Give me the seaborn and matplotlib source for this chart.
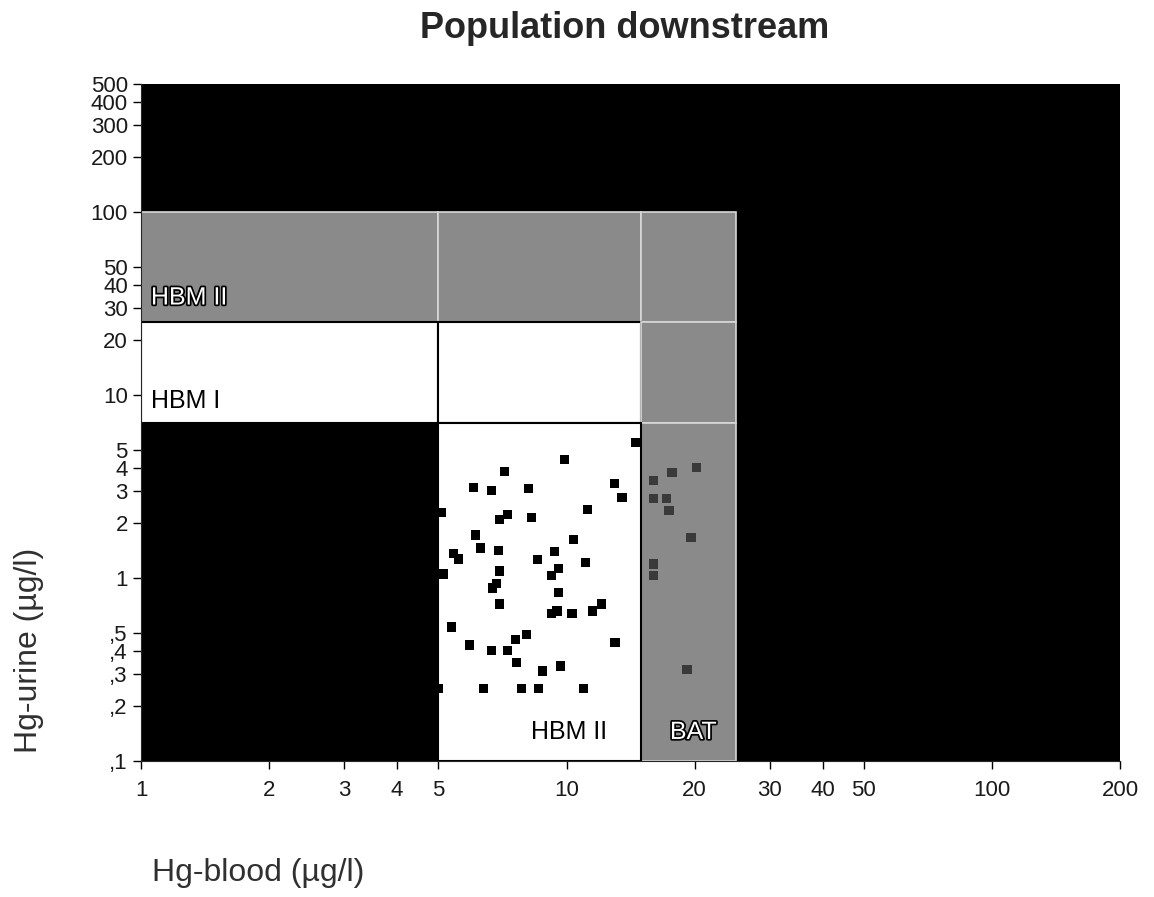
import numpy as np
import pandas as pd
import matplotlib
matplotlib.use("Agg")
import matplotlib.pyplot as plt
import matplotlib.patheffects as pe
import seaborn as sns
from matplotlib.patches import Rectangle

# Hg-blood / Hg-urine of the downstream population
blood_pts = [14.5, 9.9, 7.15, 6.04, 6.66, 8.14, 12.97, 13.5, 5.08, 11.2, 7.26, 6.96,
             8.27, 6.11, 10.4, 6.28, 6.92, 5.42, 5.57, 9.37, 8.54, 11.1, 9.58, 9.22,
             5.14, 6.96, 6.85, 6.7, 6.96, 9.58, 9.22, 9.5, 10.3, 11.5, 12.1, 5.36,
             8.05, 7.59, 5.91, 6.66, 7.26, 7.63, 8.78, 9.68, 13.0, 5.0, 6.38, 7.84,
             8.6, 10.97]
urine_pts = [5.5, 4.45, 3.82, 3.12, 3.0, 3.08, 3.28, 2.75, 2.27, 2.37, 2.22, 2.08,
             2.14, 1.72, 1.62, 1.46, 1.41, 1.36, 1.27, 1.39, 1.26, 1.22, 1.13, 1.03,
             1.05, 1.09, 0.93, 0.88, 0.72, 0.83, 0.64, 0.66, 0.64, 0.66, 0.72, 0.54,
             0.49, 0.46, 0.43, 0.40, 0.40, 0.345, 0.31, 0.33, 0.445, 0.25, 0.25, 0.25,
             0.25, 0.25]

# points hidden in the BAT column
blood_bat = [17.7, 16.0, 16.0, 17.2, 17.4, 19.6, 16.0, 16.0, 19.2, 20.2]
urine_bat = [3.78, 3.41, 2.72, 2.72, 2.33, 1.66, 1.19, 1.03, 0.316, 4.02]

# limit values
blood_limits = [5, 15, 25]
urine_limits = [7, 25, 100]

x_ticks = [1, 2, 3, 4, 5, 10, 20, 30, 40, 50, 100, 200]
y_ticks = [0.1, 0.2, 0.3, 0.4, 0.5, 1, 2, 3, 4, 5, 10, 20, 30, 40, 50, 100, 200, 300, 400, 500]
y_labels = [",1", ",2", ",3", ",4", ",5", "1", "2", "3", "4", "5", "10", "20", "30",
            "40", "50", "100", "200", "300", "400", "500"]

sns.set_style("ticks")
plt.rcParams['font.family'] = ['Liberation Sans', 'DejaVu Sans']

df = pd.DataFrame({'blood': blood_pts, 'urine': urine_pts})
df_bat = pd.DataFrame({'blood': blood_bat, 'urine': urine_bat})

fig = plt.figure(figsize=(11.54, 8.97), dpi=100)
ax = fig.add_axes([0.1222, 0.1516, 0.8484, 0.7548])
ax.set_xscale('log')
ax.set_yscale('log')
ax.set_xlim(1, 200)
ax.set_ylim(0.1, 500)
ax.set_facecolor('black')

b1, b2, b3 = blood_limits
u1, u2, u3 = urine_limits
GRAY = '#8a8a8a'
# upper HBM II band
for x0, x1 in [(1, b1), (b1, b2), (b2, b3)]:
    ax.add_patch(Rectangle((x0, u2), x1 - x0, u3 - u2, facecolor=GRAY,
                           edgecolor='#d8d8d8', lw=1.2, zorder=1))
# HBM I band (white)
for x0, x1 in [(1, b1), (b1, b2)]:
    ax.add_patch(Rectangle((x0, u1), x1 - x0, u2 - u1, facecolor='white',
                           edgecolor='black', lw=1.5, zorder=1))
# BAT column
ax.add_patch(Rectangle((b2, u1), b3 - b2, u2 - u1, facecolor=GRAY,
                       edgecolor='#d8d8d8', lw=1.2, zorder=1))
ax.add_patch(Rectangle((b2, 0.1), b3 - b2, u1 - 0.1, facecolor=GRAY,
                       edgecolor='#d8d8d8', lw=1.2, zorder=1))
# lower white block
ax.add_patch(Rectangle((b1, 0.1), b2 - b1, u1 - 0.1, facecolor='white',
                       edgecolor='black', lw=1.5, zorder=1))

sns.scatterplot(data=df_bat, x='blood', y='urine', marker='s', s=45, color='#3a3a3a',
                edgecolor='none', ax=ax, zorder=3, legend=False)
sns.scatterplot(data=df, x='blood', y='urine', marker='s', s=45, color='black',
                edgecolor='none', ax=ax, zorder=4, legend=False)

outline = [pe.withStroke(linewidth=2.5, foreground='black')]
ax.text(1.055, 31.2, 'HBM II', fontsize=18, color='white', va='baseline',
        path_effects=outline, zorder=5)
ax.text(1.055, 8.48, 'HBM I', fontsize=18, color='black', va='baseline', zorder=5)
ax.text(8.23, 0.132, 'HBM II', fontsize=18, color='black', va='baseline', zorder=5)
ax.text(17.5, 0.132, 'BAT', fontsize=18, color='white', va='baseline',
        path_effects=outline, zorder=5)

ax.set_xticks(x_ticks)
ax.set_xticklabels([str(t) for t in x_ticks])
ax.set_yticks(y_ticks)
ax.set_yticklabels(y_labels)
ax.minorticks_off()
ax.tick_params(axis='both', labelsize=16, length=6, width=1, color='black',
               labelcolor='#1a1a1a')
ax.tick_params(axis='x', pad=8)
for s in ['top', 'right']:
    ax.spines[s].set_visible(False)
ax.set_xlabel('')
ax.set_ylabel('')

fig.text(0.5416, 0.9576, 'Population downstream', ha='center', va='baseline',
         fontsize=26, fontweight='bold')
fig.text(0.025, 0.275, 'Hg-urine (µg/l)', rotation=90, ha='center', va='center',
         fontsize=23, color='#303030')
fig.text(0.132, 0.018, 'Hg-blood (µg/l)', ha='left', va='baseline',
         fontsize=23, color='#303030')

fig.savefig('out.png', dpi=100)
